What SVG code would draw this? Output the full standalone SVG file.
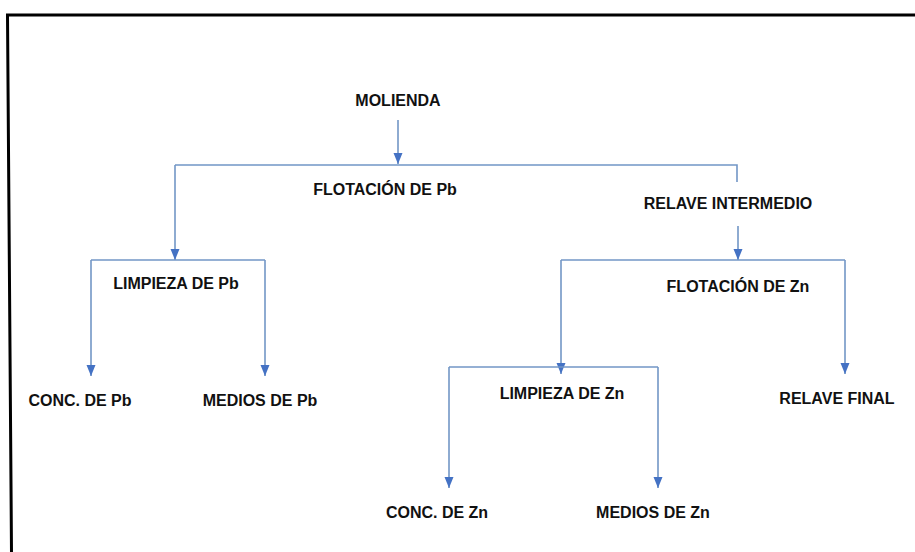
<svg xmlns="http://www.w3.org/2000/svg" width="915" height="552" viewBox="0 0 915 552">
  <style>
    .lbl { font-family: "Liberation Sans", Arial, sans-serif; font-weight: bold; font-size: 16px; fill: #111; text-anchor: middle; }
    .ln { fill: none; stroke: #7296c6; stroke-width: 1.6; }
    .arr { marker-end: url(#tip); }
  </style>
  <defs>
    <marker id="tip" markerUnits="userSpaceOnUse" markerWidth="12" markerHeight="12" viewBox="0 0 12 12" refX="11" refY="6" orient="auto">
      <path d="M0,1.5 L11,6 L0,10.5 Z" fill="#4472c4"/>
    </marker>
  </defs>

  <rect width="915" height="552" fill="#ffffff"/>
  <!-- outer frame -->
  <path d="M11.5,552 L7.5,15 L915,15" fill="none" stroke="#000" stroke-width="3"/>

  <g id="connectors">
    <!-- molienda to flotación Pb -->
    <path class="ln arr" d="M398,120 L398,164"/>
    <path class="ln" d="M175,165 L737,165 L737,182"/>
    <path class="ln arr" d="M175,165 L175,260"/>
    <!-- relave intermedio to flotación Zn -->
    <path class="ln arr" d="M738,226 L738,260"/>
    <path class="ln" d="M561,260 L845,260"/>
    <path class="ln arr" d="M561,260 L561,374"/>
    <path class="ln arr" d="M845,260 L845,374"/>
    <!-- limpieza Pb -->
    <path class="ln" d="M91,260 L265,260"/>
    <path class="ln arr" d="M91,260 L91,376"/>
    <path class="ln arr" d="M265,260 L265,376"/>
    <!-- limpieza Zn -->
    <path class="ln" d="M449,367 L658,367"/>
    <path class="ln arr" d="M449,367 L449,488"/>
    <path class="ln arr" d="M658,367 L658,488"/>
  </g>

  <g id="molienda"><text class="lbl" x="398" y="106">MOLIENDA</text></g>
  <g id="flotacion-pb"><text class="lbl" x="385" y="195">FLOTACIÓN DE Pb</text></g>
  <g id="relave-intermedio"><text class="lbl" x="728" y="209">RELAVE INTERMEDIO</text></g>
  <g id="limpieza-pb"><text class="lbl" x="176" y="289">LIMPIEZA DE Pb</text></g>
  <g id="flotacion-zn"><text class="lbl" x="738" y="292">FLOTACIÓN DE Zn</text></g>
  <g id="conc-pb"><text class="lbl" x="80" y="406">CONC. DE Pb</text></g>
  <g id="medios-pb"><text class="lbl" x="260" y="406">MEDIOS DE Pb</text></g>
  <g id="limpieza-zn"><text class="lbl" x="562" y="399">LIMPIEZA DE Zn</text></g>
  <g id="relave-final"><text class="lbl" x="837" y="404">RELAVE FINAL</text></g>
  <g id="conc-zn"><text class="lbl" x="437" y="518">CONC. DE Zn</text></g>
  <g id="medios-zn"><text class="lbl" x="653" y="518">MEDIOS DE Zn</text></g>
</svg>
